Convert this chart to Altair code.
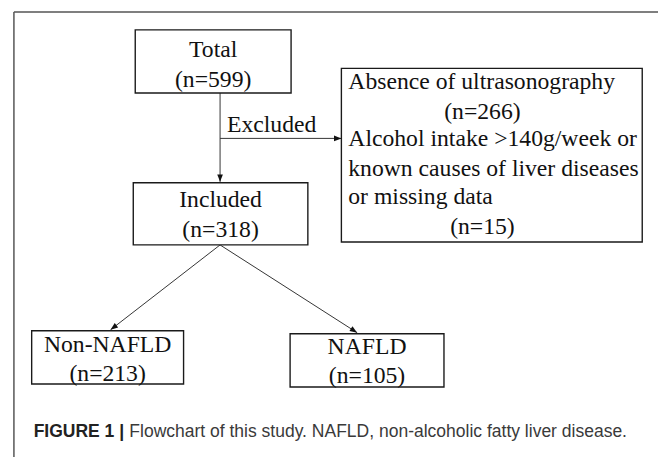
import math
import altair as alt
import pandas as pd

# ---------------- data ----------------
node_titles = ["Total", "Included", "Non-NAFLD", "NAFLD"]
node_counts = [599, 318, 213, 105]
excl_reasons = [["Absence of ultrasonography"],
                ["Alcohol intake >140g/week or", "known causes of liver diseases", "or missing data"]]
excl_counts = [266, 15]
edge_label = "Excluded"
caption_bold = "FIGURE 1 |"
caption_text = "Flowchart of this study. NAFLD, non-alcoholic fatty liver disease."

# ---------------- layout (page pixels) ----------------
W, H = 648, 437
node_layout = {  # x0, x1, y0, y1, title_y, count_y
    "Total": (137, 295, 27, 91, 47, 78),
    "Included": (135, 312, 182, 245, 200, 230),
    "Non-NAFLD": (32, 186, 332, 386, 347, 376),
    "NAFLD": (294, 450, 335, 389, 349, 378),
}
excl_box = (346, 651, 66, 242)
excl_text_x = 353
excl_count_x = 489
excl_line_y = [80, 110, 138, 168, 197, 227]
edges = [  # from (x, y) to (x, y); all end with an arrowhead
    (223, 91, 223, 181),
    (223, 137, 346, 137),
    (223, 245, 112, 331),
    (223, 245, 362, 334),
]
edge_label_pos = (230, 124)
frame = [(14, 8.75, 667, 8.75), (14, 8.75, 14, 470)]
caption_x, caption_y = 34, 435
caption_font = 17.75
caption_gap = 97

serif = "Liberation Serif"
sans = "Liberation Sans"
fs = 24

# ---------------- tables ----------------
boxes = []
texts = []
for t, c in zip(node_titles, node_counts):
    x0, x1, y0, y1, ty, cy = node_layout[t]
    boxes.append(dict(x0=x0, x1=x1, y0=y0, y1=y1))
    cx = (x0 + x1) / 2
    texts.append(dict(x=cx, y=ty, label=t, align="center"))
    texts.append(dict(x=cx, y=cy, label=f"(n={c})", align="center"))
boxes.append(dict(x0=excl_box[0], x1=excl_box[1], y0=excl_box[2], y1=excl_box[3]))
i = 0
for lines, c in zip(excl_reasons, excl_counts):
    for ln in lines:
        texts.append(dict(x=excl_text_x, y=excl_line_y[i], label=ln, align="left"))
        i += 1
    texts.append(dict(x=excl_count_x, y=excl_line_y[i], label=f"(n={c})", align="center"))
    i += 1
texts.append(dict(x=edge_label_pos[0], y=edge_label_pos[1], label=edge_label, align="left"))

boxes_df = pd.DataFrame(boxes)
texts_df = pd.DataFrame(texts)
edges_df = pd.DataFrame(edges, columns=["x0", "y0", "x1", "y1"])
edges_df["angle"] = [
    (math.degrees(math.atan2(x1 - x0, -(y1 - y0))) + 360) % 360
    for x0, y0, x1, y1 in edges
]
frame_df = pd.DataFrame(frame, columns=["x0", "y0", "x1", "y1"])

xs = alt.Scale(domain=[8, 8 + W], nice=False, zero=False)
ys = alt.Scale(domain=[8, 8 + H], reverse=True, nice=False, zero=False)
X = lambda f: alt.X(f, type="quantitative", scale=xs, axis=None)
Y = lambda f: alt.Y(f, type="quantitative", scale=ys, axis=None)

frame_layer = alt.Chart(frame_df).mark_rule(color="#555555", strokeWidth=1.5).encode(
    x=X("x0"), y=Y("y0"), x2="x1", y2="y1")

box_layer = alt.Chart(boxes_df).mark_rect(fill="white", stroke="#1a1a1a", strokeWidth=1.4).encode(
    x=X("x0"), x2="x1", y=Y("y0"), y2="y1")

edge_layer = alt.Chart(edges_df).mark_rule(color="#333333", strokeWidth=1).encode(
    x=X("x0"), y=Y("y0"), x2="x1", y2="y1")

arrow_layer = alt.Chart(edges_df).mark_point(
    shape="M0,0L-0.38,1L0.38,1Z", size=225, filled=True, color="#111111", opacity=1, strokeWidth=0
).encode(x=X("x1"), y=Y("y1"), angle=alt.Angle("angle:Q", scale=None))

text_center = alt.Chart(texts_df[texts_df["align"] == "center"]).mark_text(
    font=serif, fontSize=fs, align="center", baseline="middle", color="#111111"
).encode(x=X("x"), y=Y("y"), text="label:N")

text_left = alt.Chart(texts_df[texts_df["align"] == "left"]).mark_text(
    font=serif, fontSize=fs, align="left", baseline="middle", color="#111111"
).encode(x=X("x"), y=Y("y"), text="label:N")

cap_df = pd.DataFrame([dict(x=caption_x, y=caption_y, bold=caption_bold, rest=caption_text)])
cap_bold = alt.Chart(cap_df).mark_text(
    font=sans, fontSize=caption_font, fontWeight="bold", align="left", baseline="middle", color="#222222"
).encode(x=X("x"), y=Y("y"), text="bold:N")
cap_rest = alt.Chart(cap_df).mark_text(
    font=sans, fontSize=caption_font, align="left", baseline="middle", color="#3a3a3a", dx=caption_gap
).encode(x=X("x"), y=Y("y"), text="rest:N")

chart = alt.layer(
    frame_layer, edge_layer, box_layer, arrow_layer, text_center, text_left, cap_bold, cap_rest
).properties(width=W, height=H, padding=0, background="white").configure_view(strokeWidth=0)

chart.save("out.html", embed_options={"renderer": "svg", "actions": False})
